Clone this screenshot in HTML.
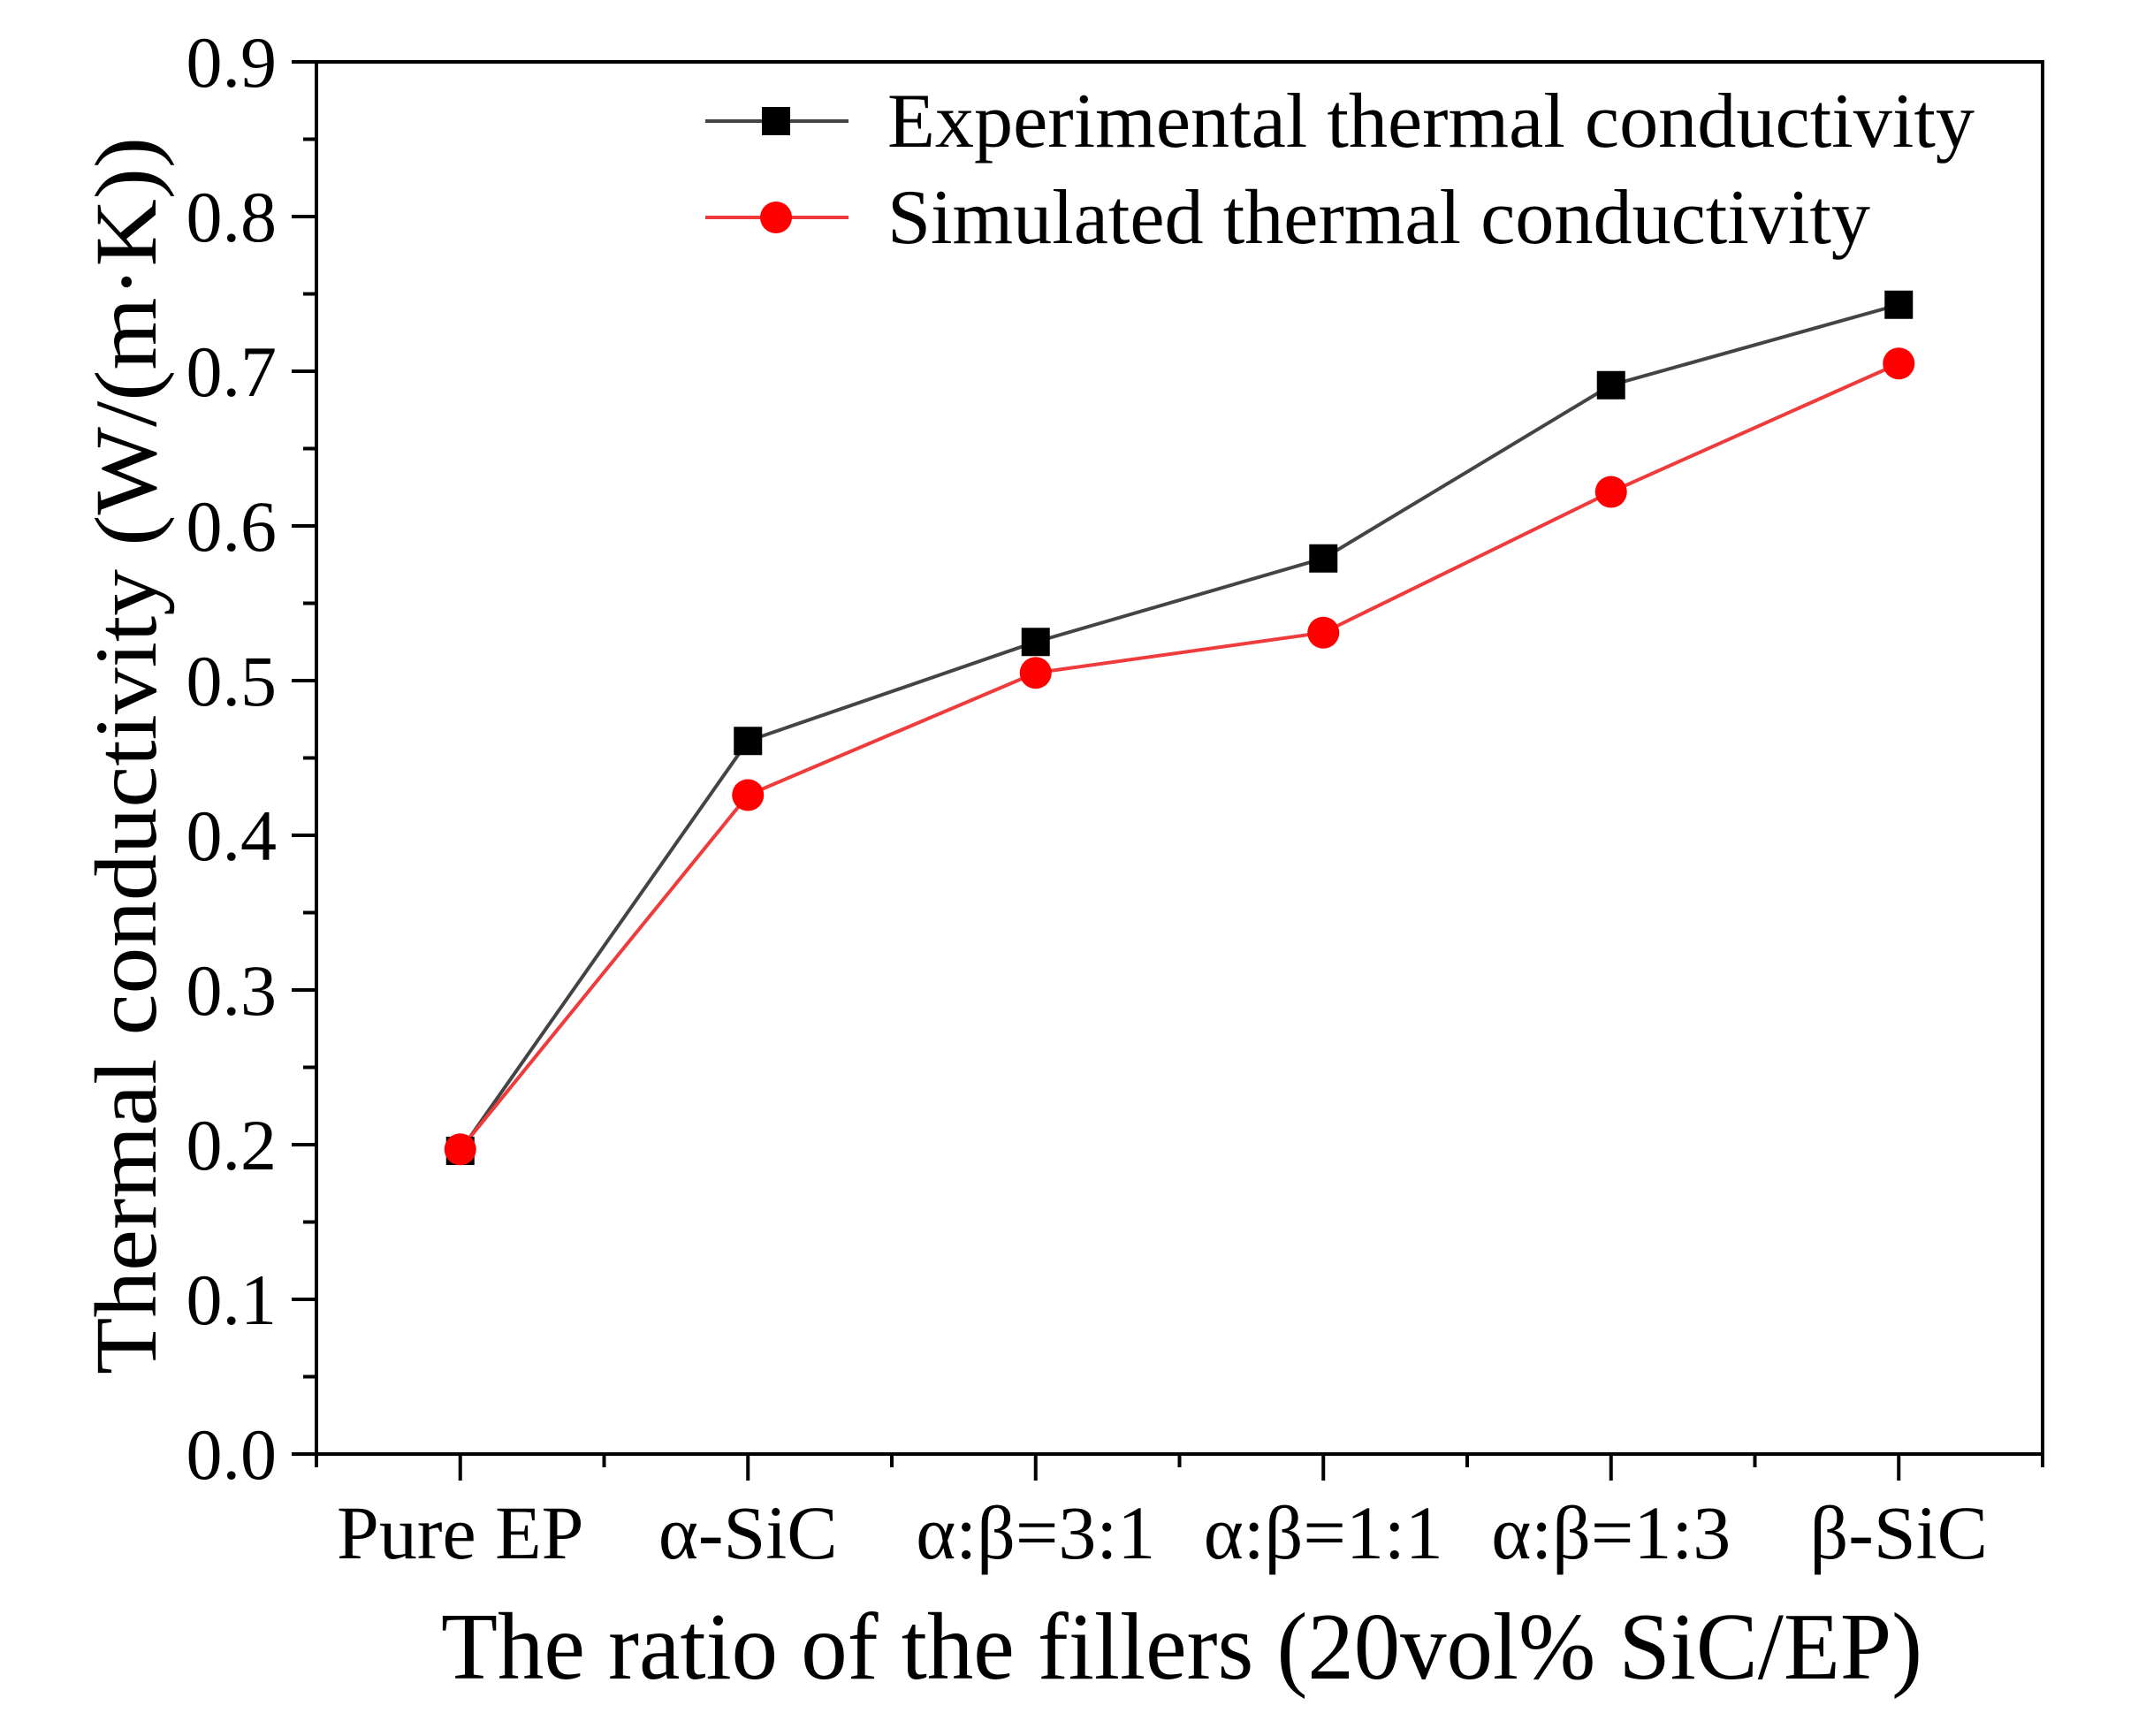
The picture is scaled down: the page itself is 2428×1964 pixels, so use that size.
<!DOCTYPE html>
<html><head><meta charset="utf-8"><style>html,body{margin:0;padding:0;background:#fff}svg{display:block}</style></head>
<body>
<svg id="chart" width="2428" height="1964" viewBox="0 0 2428 1964" xmlns="http://www.w3.org/2000/svg" font-family="'Liberation Serif', serif">
<rect width="2428" height="1964" fill="#fff"/>
<g id="axes"></g>
<g id="series"></g>
<g id="legend">
  <line x1="798" y1="137" x2="960" y2="137" stroke="#444" stroke-width="4"/>
  <rect x="862" y="121" width="32" height="32" fill="#000"/>
  <text x="1004" y="166" font-size="88" textLength="1230" lengthAdjust="spacingAndGlyphs">Experimental thermal conductivity</text>
  <line x1="798" y1="246" x2="960" y2="246" stroke="#ef3b3b" stroke-width="4"/>
  <circle cx="878" cy="246" r="18" fill="#f00"/>
  <text x="1004" y="275" font-size="88" textLength="1112" lengthAdjust="spacingAndGlyphs">Simulated thermal conductivity</text>
</g>
<text x="1337" y="1899" font-size="108" text-anchor="middle" textLength="1676" lengthAdjust="spacingAndGlyphs">The ratio of the fillers (20vol% SiC/EP)</text>
<text transform="translate(176,855) rotate(-90)" font-size="100" text-anchor="middle" textLength="1400" lengthAdjust="spacingAndGlyphs">Thermal conductivity (W/(m·K))</text>
</svg>
<script>
const categories = ["Pure EP","α-SiC","α:β=3:1","α:β=1:1","α:β=1:3","β-SiC"];
const experimental = [0.196,0.461,0.525,0.579,0.691,0.743];
const simulated = [0.197,0.426,0.505,0.531,0.622,0.705];
const yTicks = ["0.0","0.1","0.2","0.3","0.4","0.5","0.6","0.7","0.8","0.9"];

const NS="http://www.w3.org/2000/svg";
const L=358,R=2311,T=70,B=1645;
const yMax=0.9;
function xs(i){return L+(i+0.5)*(R-L)/categories.length;}
function ys(v){return B-(v/yMax)*(B-T);}
function mk(tag,attrs,parent){const e=document.createElementNS(NS,tag);for(const k in attrs)e.setAttribute(k,attrs[k]);parent.appendChild(e);return e;}
const axes=document.getElementById('axes');
const frame=mk('rect',{x:L,y:T,width:R-L,height:B-T,fill:'none',stroke:'#000','stroke-width':4},axes);


yTicks.forEach((t,i)=>{
  const v=parseFloat(t);const y=ys(v);
  mk('line',{x1:L-28,y1:y,x2:L,y2:y,stroke:'#000','stroke-width':4},axes);
  if(i<yTicks.length-1){const ym=ys(v+0.05);mk('line',{x1:L-15,y1:ym,x2:L,y2:ym,stroke:'#000','stroke-width':4},axes);}
  const tx=mk('text',{x:L-45,y:y+28,'font-size':82,'text-anchor':'end'},axes);
  tx.textContent=t;
  
  
});
for(let i=0;i<=categories.length;i++){
  const xb=L+i*(R-L)/categories.length;
  mk('line',{x1:xb,y1:B,x2:xb,y2:B+15,stroke:'#000','stroke-width':4},axes);
}
categories.forEach((c,i)=>{
  const x=xs(i);
  mk('line',{x1:x,y1:B,x2:x,y2:B+30,stroke:'#000','stroke-width':4},axes);
  const tx=mk('text',{x:x,y:1763,'font-size':86,'text-anchor':'middle'},axes);
  tx.textContent=c;
  
  
});
const s=document.getElementById('series');
const p1=mk('polyline',{points:experimental.map((v,i)=>xs(i)+','+ys(v)).join(' '),fill:'none',stroke:'#444','stroke-width':4},s);


const p2=mk('polyline',{points:simulated.map((v,i)=>xs(i)+','+ys(v)).join(' '),fill:'none',stroke:'#ef3b3b','stroke-width':4},s);


experimental.forEach((v,i)=>{
  const r=mk('rect',{x:xs(i)-16,y:ys(v)-16,width:32,height:32,fill:'#000'},s);
  
  
});
simulated.forEach((v,i)=>{
  const c=mk('circle',{cx:xs(i),cy:ys(v),r:18,fill:'#f00'},s);
  
  
});
</script>
</body></html>
